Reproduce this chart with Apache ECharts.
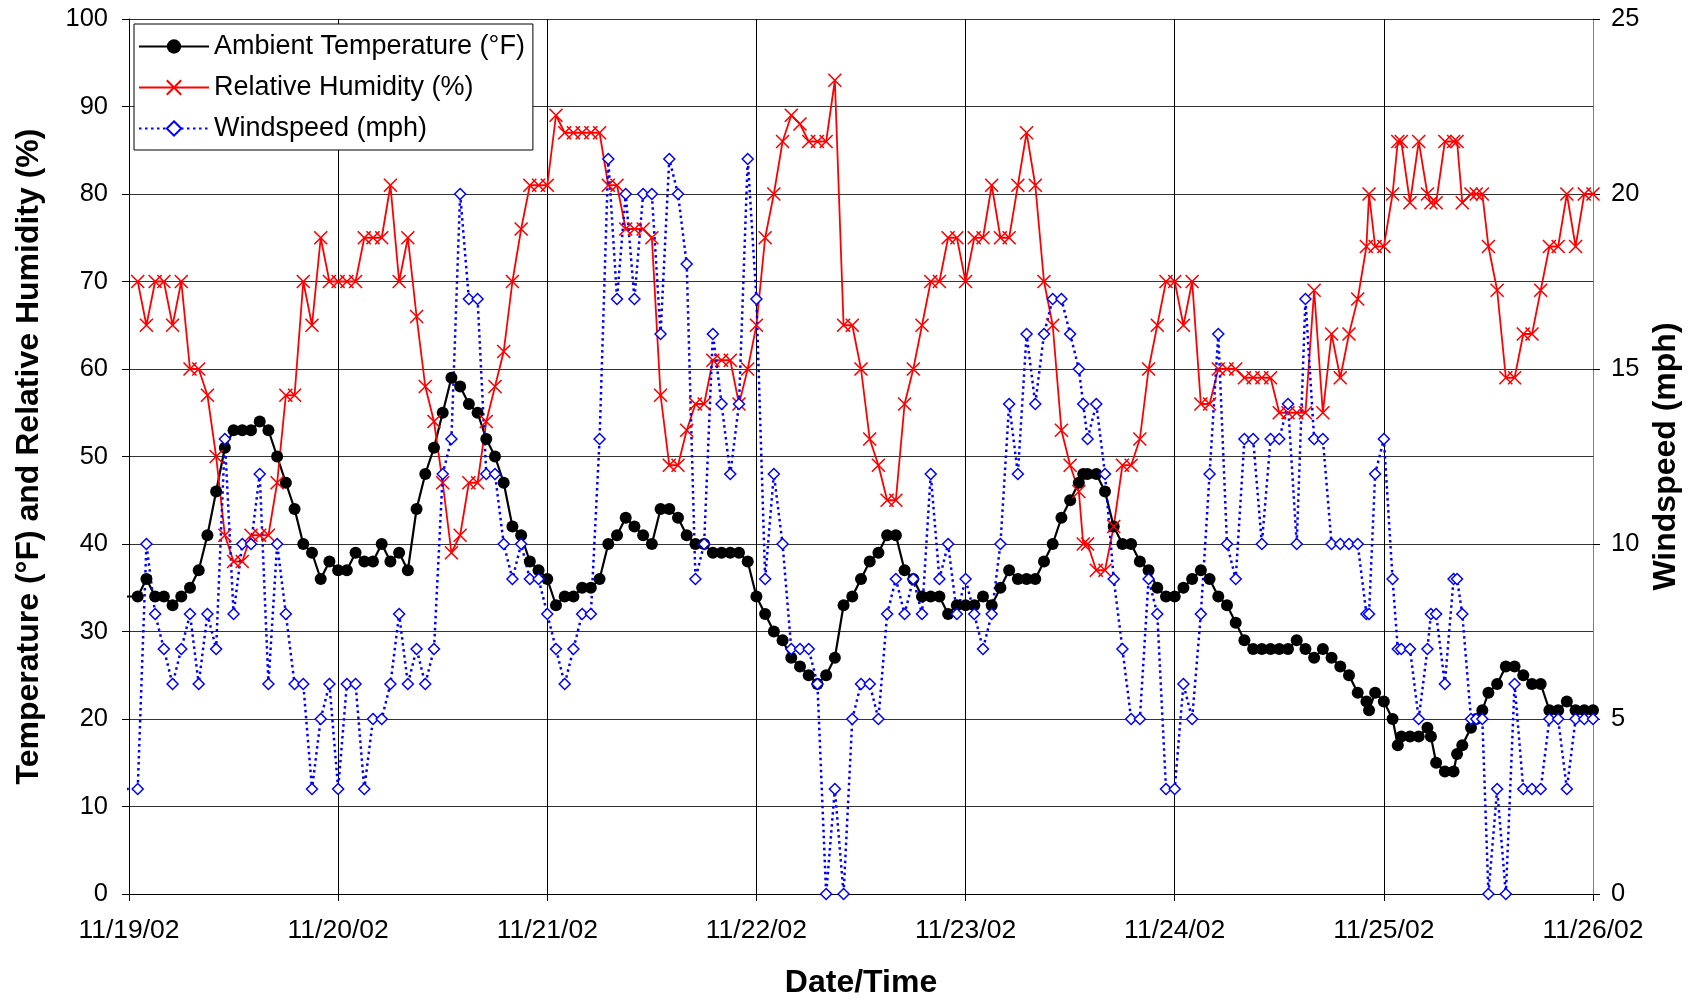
<!DOCTYPE html>
<html><head><meta charset="utf-8">
<script src="https://cdn.jsdelivr.net/npm/echarts/dist/echarts.min.js"></script>
<style>html,body{margin:0;padding:0;background:#fff}#chart{width:1690px;height:1000px}</style>
</head><body><div id="chart"></div>
<script>
// X tick labels (one per day, 24 h apart)
const dateLabels = ['11/19/02','11/20/02','11/21/02','11/22/02','11/23/02','11/24/02','11/25/02','11/26/02'];

// Sample times, hours after 11/19/02 00:00
const hoursPre = [-1];
const hoursD1 = [1,2,3,4,5,6,7,8,9,10,11,12,13,14,15,16,17,18,19,20,21,22,23,24];
const hoursD2 = [25,26,27,28,29,30,31,32,33,34,35,36,37,38,39,40,41,42,43,44,45,46,47,48];
const hoursD3 = [49,50,51,52,53,54,55,56,57,58,59,60,61,62,63,64,65,66,67,68,69,70,71,72];
const hoursD4 = [73,74,75,76,77,78,79,80,81,82,83,84,85,86,87,88,89,90,91,92,93,94,95,96];
const hoursD5 = [97,98,99,100,101,102,103,104,105,106,107,108,109,109.5,110,111,112,113,114,115,116,117,118,119,120];
const hoursD6 = [121,122,123,124,125,126,127,128,129,130,131,132,133,134,135,136,137,138,139,140,141];
const hoursD7 = [142,142.3,143,144,145,145.6,146,147,148,149,149.4,150,151,152,152.4,153,154,154.6,155.3,156,157,158,159,160,161,162,163,164,165,166,167,168,169];

// Ambient Temperature (°F)
const tempPre = [34];
const tempD1 = [34,36,34,34,33,34,35,37,41,46,51,53,53,53,54,53,50,47,44,40,39,36,38,37];
const tempD2 = [37,39,38,38,40,38,39,37,44,48,51,55,59,58,56,55,52,50,47,42,41,38,37,36];
const tempD3 = [33,34,34,35,35,36,40,41,43,42,41,40,44,44,43,41,40,40,39,39,39,39,38,34];
const tempD4 = [32,30,29,27,26,25,24,25,27,33,34,36,38,39,41,41,37,36,34,34,34,32,33,33];
const tempD5 = [33,34,33,35,37,36,36,36,38,40,43,45,47,48,48,48,46,42,40,40,38,37,35,34,34];
const tempD6 = [35,36,37,36,34,33,31,29,28,28,28,28,28,29,28,27,28,27,26,25,23];
const tempD7 = [22,21,23,22,20,17,18,18,18,19,18,15,14,14,16,17,19,20,21,23,24,26,26,25,24,24,21,21,22,21,21,21,21];

// Relative Humidity (%)
const humPre = [null];
const humD1 = [70,65,70,70,65,70,60,60,57,50,41,38,38,41,41,41,47,57,57,70,65,75,70,70];
const humD2 = [70,70,75,75,75,81,70,75,66,58,54,47,39,41,47,47,54,58,62,70,76,81,81,81];
const humD3 = [89,87,87,87,87,87,81,81,76,76,76,75,57,49,49,53,56,56,61,61,61,56,60,65];
const humD4 = [75,80,86,89,88,86,86,86,93,65,65,60,52,49,45,45,56,60,65,70,70,75,75,70];
const humD5 = [75,75,81,75,75,81,87,81,70,65,53,49,46,40,40,37,37,42,49,49,52,60,65,70,70];
const humD6 = [65,70,56,56,60,60,60,59,59,59,59,55,55,55,55,69,55,64,59,64,68];
const humD7 = [74,80,74,74,80,86,86,79,86,80,79,79,86,86,86,79,80,80,80,74,69,59,59,64,64,69,74,74,80,74,80,80,80];

// Windspeed (mph)
const windPre = [3];
const windD1 = [3,10,8,7,6,7,8,6,8,7,13,8,10,10,12,6,10,8,6,6,3,5,6,3];
const windD2 = [6,6,3,5,5,6,8,6,7,6,7,12,13,20,17,17,12,12,10,9,10,9,9,8];
const windD3 = [7,6,7,8,8,13,21,17,20,17,20,20,16,21,20,18,9,10,16,14,12,14,21,17];
const windD4 = [9,12,10,7,7,7,6,0,3,0,5,6,6,5,8,9,8,9,8,12,9,10,8,9];
const windD5 = [8,7,8,10,14,12,16,14,16,17,17,16,15,14,13,14,12,9,7,5,5,9,8,3,3];
const windD6 = [6,5,8,12,16,10,9,13,13,10,13,13,14,10,17,13,13,10,10,10,10];
const windD7 = [8,8,12,13,9,7,7,7,5,7,8,8,6,9,9,8,5,5,5,0,3,0,6,3,3,3,5,5,3,5,5,5,5];

const hours = [].concat(hoursPre,hoursD1,hoursD2,hoursD3,hoursD4,hoursD5,hoursD6,hoursD7);
const temp = [].concat(tempPre,tempD1,tempD2,tempD3,tempD4,tempD5,tempD6,tempD7);
const hum = [].concat(humPre,humD1,humD2,humD3,humD4,humD5,humD6,humD7);
const wind = [].concat(windPre,windD1,windD2,windD3,windD4,windD5,windD6,windD7);

const pair = (vals) => hours.map((h, i) => [h, vals[i]]);

const FONT = 'Liberation Sans, Arial, sans-serif';
const chart = echarts.init(document.getElementById('chart'), null, {renderer: 'canvas'});
chart.setOption({
  animation: false,
  backgroundColor: '#ffffff',
  textStyle: {fontFamily: FONT, color: '#000'},
  grid: {left: 129, right: 97, top: 19, bottom: 106, outerBoundsMode: 'none', containLabel: false},
  legend: {
    orient: 'vertical', left: 134, top: 24,
    backgroundColor: '#fff', borderColor: '#000', borderWidth: 1,
    padding: [9, 8, 8, 4], itemGap: 14, itemWidth: 70, itemHeight: 18,
    textStyle: {fontFamily: FONT, fontSize: 27, color: '#000'},
    data: ['Ambient Temperature (°F)', 'Relative Humidity (%)', 'Windspeed (mph)']
  },
  xAxis: {
    type: 'value', min: 0, max: 168, interval: 24,
    name: 'Date/Time', nameLocation: 'middle', nameGap: 73,
    nameTextStyle: {fontFamily: FONT, fontSize: 32, fontWeight: 'bold', color: '#000'},
    axisLine: {show: true, onZero: false, lineStyle: {color: '#000', width: 1}},
    axisTick: {show: true, inside: false, length: 7, lineStyle: {color: '#000'}},
    axisLabel: {fontFamily: FONT, fontSize: 26.5, color: '#000', margin: 23,
      formatter: (v) => dateLabels[Math.round(v / 24)] || ''},
    splitLine: {show: true, lineStyle: {color: '#000', width: 1}}
  },
  yAxis: [{
    type: 'value', min: 0, max: 100, interval: 10,
    name: 'Temperature (°F) and Relative Humidity (%)', nameLocation: 'middle', nameGap: 84, nameRotate: 90,
    nameTextStyle: {fontFamily: FONT, fontSize: 32, fontWeight: 'bold', color: '#000'},
    axisLine: {show: true, lineStyle: {color: '#000', width: 1}},
    axisTick: {show: true, inside: false, length: 7, lineStyle: {color: '#000'}},
    axisLabel: {fontFamily: FONT, fontSize: 25.5, color: '#000', margin: 21},
    splitLine: {show: true, lineStyle: {color: '#333', width: 1}}
  }, {
    type: 'value', min: 0, max: 25, interval: 5, position: 'right',
    name: 'Windspeed (mph)', nameLocation: 'middle', nameGap: 56, nameRotate: 90,
    nameTextStyle: {fontFamily: FONT, fontSize: 32, fontWeight: 'bold', color: '#000'},
    axisLine: {show: true, lineStyle: {color: '#808080', width: 1}},
    axisTick: {show: true, inside: false, length: 7, lineStyle: {color: '#000'}},
    axisLabel: {fontFamily: FONT, fontSize: 25.5, color: '#000', margin: 18},
    splitLine: {show: false}
  }],
  series: [{
    name: 'Ambient Temperature (°F)', type: 'line', yAxisIndex: 0, clip: true,
    data: pair(temp),
    symbol: 'circle', symbolSize: 12, showAllSymbol: true,
    lineStyle: {color: '#000', width: 2.2},
    itemStyle: {color: '#000'},
    emphasis: {disabled: true}
  }, {
    name: 'Relative Humidity (%)', type: 'line', yAxisIndex: 0, clip: true,
    data: pair(hum),
    symbol: 'path://M0,0L10,10M10,0L0,10', symbolSize: 13, showAllSymbol: true,
    lineStyle: {color: '#ff0000', width: 1.8},
    itemStyle: {color: 'rgba(0,0,0,0)', borderColor: '#ff0000', borderWidth: 1.6},
    emphasis: {disabled: true}
  }, {
    name: 'Windspeed (mph)', type: 'line', yAxisIndex: 1, clip: true,
    data: pair(wind),
    symbol: 'diamond', symbolSize: 11, showAllSymbol: true,
    lineStyle: {color: '#0000ff', width: 2.5, type: [2.5, 3.5]},
    itemStyle: {color: '#ffffff', borderColor: '#0000ff', borderWidth: 1.5},
    emphasis: {disabled: true}
  }]
});
</script>
</body></html>
